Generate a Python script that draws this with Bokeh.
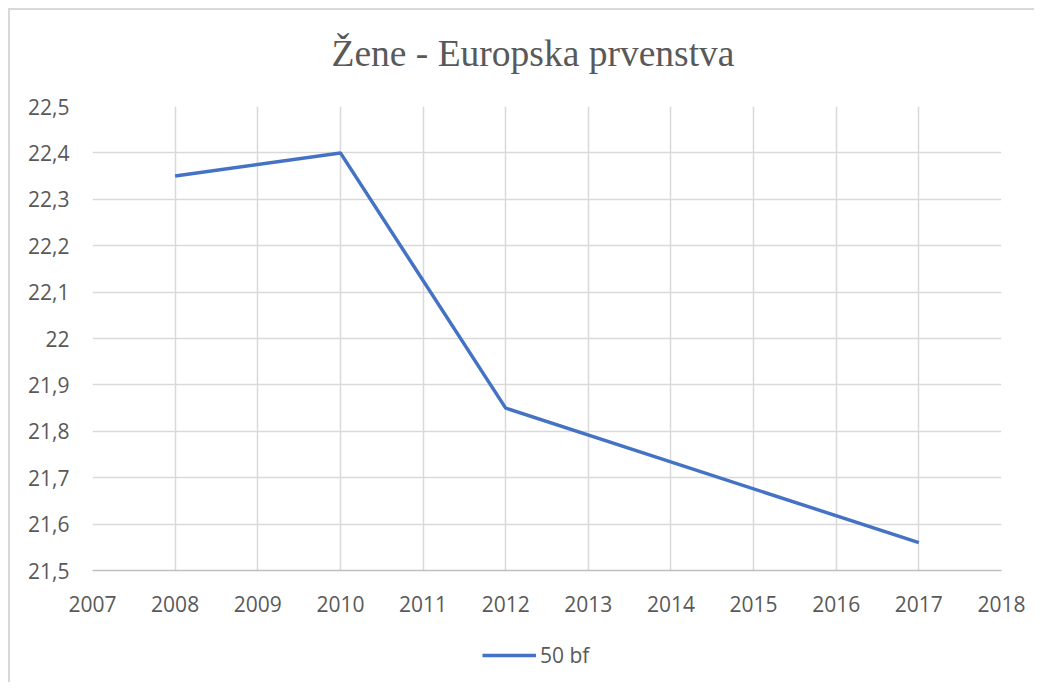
from bokeh.plotting import figure
from bokeh.layouts import column
from bokeh.models import FixedTicker, CustomJSTickFormatter, Legend, LegendItem, Range1d, Div
from bokeh.embed import file_html
from bokeh.resources import INLINE

years = [2008, 2010, 2012, 2017]
times_50bf = [22.35, 22.40, 21.85, 21.56]
series_name = "50 bf"
title_text = "Žene - Europska prvenstva"
x_ticks = list(range(2007, 2019))
y_ticks = [21.5, 21.6, 21.7, 21.8, 21.9, 22.0, 22.1, 22.2, 22.3, 22.4, 22.5]

TXT = "#595959"
GRID = "#D9D9D9"
FONT = "Open Sans"
LINE = "#4472C4"

title = Div(text=title_text, width=1024, height=70,
            styles={"font-family": "'Liberation Serif', serif", "font-size": "37.5px",
                    "color": TXT, "text-align": "center", "line-height": "1",
                    "padding-top": "25px", "box-sizing": "border-box",
                    "text-indent": "22px", "background": "white"})
title.margin = 0

p = figure(width=1024, height=540, output_backend="svg", toolbar_location=None,
           x_range=Range1d(2007, 2018), y_range=Range1d(21.5, 22.5),
           min_border_left=82, min_border_right=33, min_border_top=26, min_border_bottom=50,
           border_fill_color="white")

p.outline_line_color = None
p.background_fill_color = "white"

p.line(years, times_50bf, line_color=LINE, line_width=3.5)

p.xaxis.ticker = FixedTicker(ticks=x_ticks)
p.yaxis.ticker = FixedTicker(ticks=y_ticks)
p.yaxis.formatter = CustomJSTickFormatter(code="var s = tick.toFixed(1).replace('.', ','); return s.endsWith(',0') ? s.slice(0, -2) : s;")

for ax in (p.xaxis, p.yaxis):
    ax.major_tick_line_color = None
    ax.minor_tick_line_color = None
    ax.major_label_text_font = FONT
    ax.major_label_text_font_size = "21px"
    ax.major_label_text_color = TXT
p.yaxis.axis_line_color = None
p.xaxis.axis_line_color = "#BFBFBF"
p.xaxis.axis_line_width = 1.5
p.xaxis.major_label_standoff = 19
p.yaxis.major_label_standoff = 17

p.xgrid.grid_line_color = GRID
p.ygrid.grid_line_color = GRID
p.xgrid.grid_line_width = 1.5
p.ygrid.grid_line_width = 1.5

# legend strip below the chart (series drawn outside its visible range, only its legend shows)
pl = figure(width=1024, height=62, output_backend="svg", toolbar_location=None,
            x_range=Range1d(0, 1), y_range=Range1d(0, 1),
            x_axis_location=None, y_axis_location=None,
            min_border_left=0, min_border_right=0, min_border_top=0, min_border_bottom=0,
            border_fill_color="white")
pl.outline_line_color = None
pl.grid.visible = False
lr = pl.line(years, times_50bf, line_color=LINE, line_width=3.5)
legend = Legend(items=[LegendItem(label=series_name, renderers=[lr])],
                orientation="horizontal", location=(390, 13),
                label_text_font=FONT, label_text_font_size="21px", label_text_color=TXT,
                glyph_width=54, label_standoff=4, border_line_color=None,
                background_fill_alpha=0, margin=0, padding=4)
pl.add_layout(legend, "center")

layout = column(title, p, pl, spacing=0)
layout.margin = (8, 0, 0, 8)
layout.styles = {"border-left": "2px solid #D9D9D9", "border-top": "2px solid #D9D9D9"}

open("out.html", "w").write(file_html(layout, INLINE))
